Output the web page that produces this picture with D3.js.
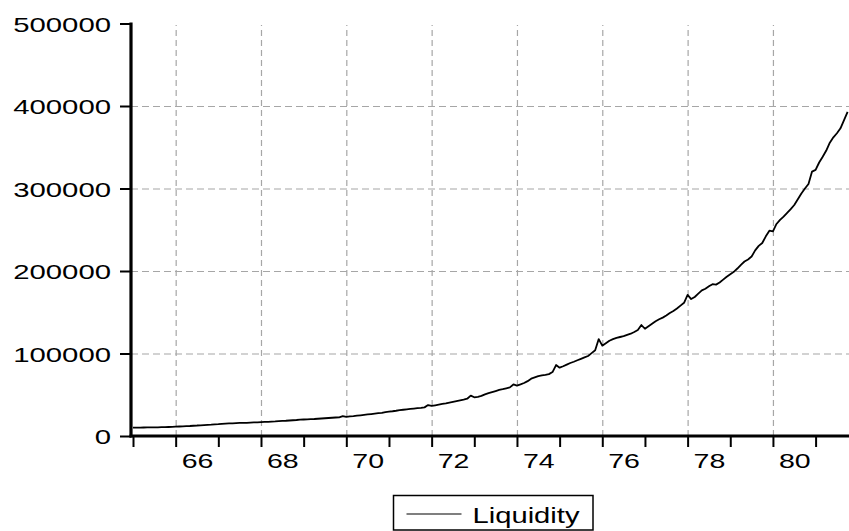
<!DOCTYPE html>
<html>
<head>
<meta charset="utf-8">
<script src="https://cdn.jsdelivr.net/npm/d3@7/dist/d3.min.js"></script>
<style>
  html, body { margin: 0; padding: 0; background: #fff; }
  svg { display: block; }
  text { font-family: "Liberation Sans", Arial, Helvetica, sans-serif; fill: #000; }
</style>
</head>
<body>
<svg id="chart" width="849" height="531"></svg>
<script>
// ---- data (monthly, starting 1965M1) ----
const seriesName = "Liquidity";
const startYear = 1965;
const liquidity = [
  // 1965
  10100, 10150, 10200, 10300, 10350, 10400, 10500, 10550, 10650, 10750, 10900, 11100,
  // 1966
  11300, 11500, 11700, 11900, 12100, 12400, 12700, 12900, 13200, 13500, 13800, 14200,
  // 1967
  14400, 14700, 15000, 15200, 15400, 15600, 15800, 15900, 16000, 16200, 16400, 16600,
  // 1968
  16800, 17000, 17200, 17500, 17700, 18000, 18300, 18500, 18800, 19100, 19400, 19800,
  // 1969
  20000, 20200, 20400, 20600, 20900, 21200, 21500, 21800, 22100, 22400, 22700, 24000,
  // 1970
  23300, 23700, 24100, 24600, 25100, 25600, 26100, 26600, 27100, 27600, 28100, 29000,
  // 1971
  29500, 30000, 30600, 31300, 31800, 32300, 32800, 33300, 33800, 34200, 34700, 37500,
  // 1972
  36400, 37200, 38000, 38800, 39600, 40500, 41400, 42300, 43200, 44100, 45200, 49000,
  // 1973
  46900, 47500, 48600, 50500, 52000, 53200, 54500, 55800, 56700, 57800, 59000, 62500,
  // 1974
  61000, 62500, 64200, 66500, 69500, 71000, 72500, 73500, 74200, 75000, 77500, 86000,
  // 1975
  82800, 84500, 86500, 88500, 90000, 91800, 93500, 95200, 97000, 100500, 104000, 117500,
  // 1976
  109500, 112500, 115500, 117500, 119000, 120000, 121000, 122500, 124000, 126000, 128500, 134500,
  // 1977
  130000, 133000, 136000, 139000, 141500, 143500, 146000, 149000, 151500, 154500, 158000, 161500,
  // 1978
  171000, 166000, 168500, 172500, 176500, 178500, 181500, 184000, 183500, 186000, 189500, 193000,
  // 1979
  196000, 199000, 203000, 207500, 211500, 214000, 217500, 225000, 230500, 234000, 242000, 248800,
  // 1980
  248000, 257000, 262000, 266000, 270500, 275000, 280000, 287000, 294000, 300000, 305500, 320500,
  // 1981
  322500, 331500, 338500, 346000, 355500, 362000, 367000, 373000, 383000, 393000
];
const yTicks = [0, 100000, 200000, 300000, 400000, 500000];
const yGrid = [100000, 200000, 300000, 400000];
const xTickYears = [1965, 1966, 1967, 1968, 1969, 1970, 1971, 1972, 1973, 1974, 1975, 1976, 1977, 1978, 1979, 1980, 1981];
const xLabelYears = [1966, 1968, 1970, 1972, 1974, 1976, 1978, 1980];
const xLabels = ["66", "68", "70", "72", "74", "76", "78", "80"];

// ---- layout ----
const svg = d3.select("#chart");
const plotL = 131, plotR = 849, plotT = 23.5, plotB = 436;

const x = d3.scaleLinear().domain([1964.953, 1981.783]).range([plotL, plotR]);
const y = d3.scaleLinear().domain([0, 500000]).range([plotB, plotT]);

const points = liquidity.map((v, i) => ({ t: startYear + i / 12, v }));

// grid lines
const gridColor = "#a6a6a6";
svg.append("g")
  .attr("transform", `translate(0,${plotB})`)
  .call(d3.axisBottom(x).tickValues(xLabelYears).tickSize(-(plotB - 25)).tickFormat(""))
  .call(g => g.select(".domain").remove())
  .call(g => g.selectAll("line").attr("stroke", gridColor).attr("stroke-width", 1.2).attr("stroke-dasharray", "6,4"));

svg.append("g")
  .attr("transform", `translate(${plotL},0)`)
  .call(d3.axisLeft(y).tickValues(yGrid).tickSize(-(plotR - plotL)).tickFormat(""))
  .call(g => g.select(".domain").remove())
  .call(g => g.selectAll("line").attr("stroke", gridColor).attr("stroke-width", 1.2).attr("stroke-dasharray", "7,4"));

// data line
svg.append("path")
  .datum(points)
  .attr("fill", "none")
  .attr("stroke", "#000")
  .attr("stroke-width", 1.8)
  .attr("stroke-linejoin", "round")
  .attr("d", d3.line().x(d => x(d.t)).y(d => y(d.v)));

// y axis
const yAxis = svg.append("g")
  .attr("transform", `translate(${plotL},0)`)
  .call(d3.axisLeft(y).tickValues(yTicks).tickSize(11).tickPadding(9).tickFormat(d3.format("d")));
yAxis.select(".domain").remove();
yAxis.selectAll("line").attr("stroke", "#000").attr("stroke-width", 2);
yAxis.selectAll("text")
  .attr("font-size", 21)
  .attr("dy", "0.36em")
  .attr("textLength", d => String(d).length * 16.3)
  .attr("lengthAdjust", "spacingAndGlyphs");
svg.append("line")
  .attr("x1", plotL).attr("x2", plotL)
  .attr("y1", y(500000) - 1).attr("y2", plotB + 1.5)
  .attr("stroke", "#000").attr("stroke-width", 3.2);

// x axis ticks
const xAxis = svg.append("g")
  .attr("transform", `translate(0,${plotB})`)
  .call(d3.axisBottom(x).tickValues(xTickYears).tickSize(11).tickFormat(""));
xAxis.select(".domain").remove();
xAxis.selectAll("line").attr("stroke", "#000").attr("stroke-width", 2);
svg.append("line")
  .attr("x1", plotL - 1.5).attr("x2", plotR)
  .attr("y1", plotB).attr("y2", plotB)
  .attr("stroke", "#000").attr("stroke-width", 3.2);

// x labels centered at mid-year
const xLab = svg.append("g")
  .attr("transform", `translate(0,${plotB})`)
  .call(d3.axisBottom(x).tickValues(xLabelYears.map(v => v + 0.5)).tickSize(0).tickPadding(17)
    .tickFormat((d, i) => xLabels[i]));
xLab.select(".domain").remove();
xLab.selectAll("text")
  .attr("font-size", 21)
  .attr("textLength", 31.7)
  .attr("lengthAdjust", "spacingAndGlyphs");

// legend
const lg = svg.append("g");
lg.append("rect")
  .attr("x", 393.5).attr("y", 495.5).attr("width", 199.5).attr("height", 34.5)
  .attr("fill", "#fff").attr("stroke", "#000").attr("stroke-width", 1.5);
lg.append("line")
  .attr("x1", 406.5).attr("x2", 461.5).attr("y1", 514).attr("y2", 514)
  .attr("stroke", "#000").attr("stroke-width", 1.2);
lg.append("text")
  .attr("x", 472.5).attr("y", 523)
  .attr("font-size", 22.5)
  .attr("textLength", 107)
  .attr("lengthAdjust", "spacingAndGlyphs")
  .text(seriesName);
</script>
</body>
</html>
